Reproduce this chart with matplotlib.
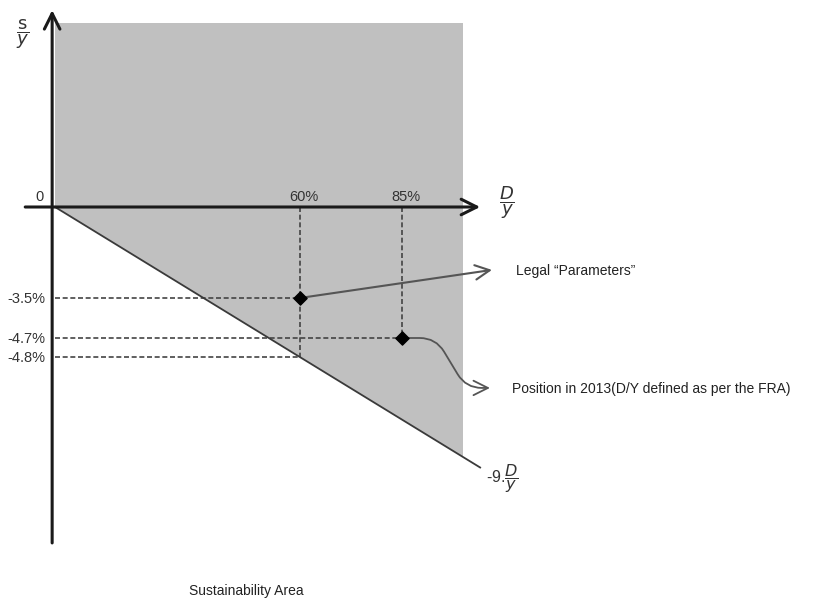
import numpy as np
import matplotlib.pyplot as plt

plt.rcParams['font.family'] = ['Liberation Sans', 'DejaVu Sans']
plt.rcParams['mathtext.fontset'] = 'dejavusans'

# 数据（示意图：赤字 s/y 与债务 D/y，单位 %）
debt_levels = [60, 85]            # D/y 竖线位置
debt_labels = ['60%', '85%']
deficit_levels = [-3.5, -4.7, -4.8]
deficit_labels = ['-3.5%', '-4.7%', '-4.8%']
points_x = [60, 85]               # 法定参数, 2013 位置
points_y = [-3.5, -4.7]
slope = -0.08                     # 可持续线 s/y = -0.08 * D/y
shade_right = 100                 # 阴影区右边界 D/y
shade_top = 5.9                   # 阴影区上边界 s/y
line_end = 104.2
axis_x_range = [-7.3, 104.2]
axis_y_range = [-10.75, 6.3]

# y 轴为示意刻度：标签间距不按比例
knots_val = [-40, -4.8, -4.7, -3.5, 0, 40]
px_per = 150 / 4.8
knots_pos = [-40 * px_per, -150, -131, -91, 0, 40 * px_per]


def fwd(v):
    return np.interp(v, knots_val, knots_pos)


def inv(p):
    return np.interp(p, knots_pos, knots_val)


fig = plt.figure(figsize=(8.38, 6.03), dpi=100)
ax = fig.add_axes([0, 0, 1, 1])
ax.set_yscale('function', functions=(fwd, inv))
# 像素定位：原点 (55, 207)，x 方向 4.08 px/%
ax.set_xlim(-55 / 4.08, (838 - 55) / 4.08)
ax.set_ylim(inv(-396), inv(207))
ax.axis('off')

ink = '#1a1a1a'
grey_txt = '#333333'

# 阴影区
ax.fill([0, 0, shade_right, shade_right],
        [0, shade_top, shade_top, slope * shade_right],
        color='#c0c0c0', lw=0, zorder=1)

# 可持续线
ax.plot([0, line_end], [0, slope * line_end], color='#3a3a3a', lw=1.3, zorder=3)

# 虚线
dash = (0, (3, 1.6))
for xv, yv in zip([60, 85], [-4.8, -4.7]):
    ax.plot([xv, xv], [0, yv], color='#444444', lw=1.2, ls=dash, zorder=2)
for yv, xv in zip(deficit_levels, [60, 85, 60]):
    ax.plot([0, xv], [yv, yv], color='#444444', lw=1.2, ls=dash, zorder=2)

# 坐标轴
ax.annotate('', xy=(axis_x_range[1], 0), xytext=(axis_x_range[0], 0),
            arrowprops=dict(arrowstyle='->', lw=2.2, color=ink,
                            mutation_scale=28, shrinkA=0, shrinkB=0), zorder=5)
ax.annotate('', xy=(-0.7, axis_y_range[1]), xytext=(-0.7, axis_y_range[0]),
            arrowprops=dict(arrowstyle='->', lw=2.2, color=ink,
                            mutation_scale=28, shrinkA=0, shrinkB=0), zorder=5)

# 标记点
ax.scatter(points_x, points_y, marker='D', s=45, color='black', zorder=6)

# 刻度标签
ax.annotate('0', (0, 0), xytext=(-11.5, 7), textcoords='offset points',
            ha='center', va='center', fontsize=10.5, color=grey_txt)
for xv, lab in zip(debt_levels, debt_labels):
    ax.annotate(lab, (xv, 0), xytext=(3, 7.5), textcoords='offset points',
                ha='center', va='center', fontsize=10.5, color=grey_txt)
for yv, lab in zip(deficit_levels, deficit_labels):
    ax.annotate(lab, (0, yv), xytext=(-7, -1), textcoords='offset points',
                ha='right', va='center', fontsize=10.5, color=grey_txt)

# 轴标题
ax.annotate(r'$\dfrac{\mathrm{s}}{y}$', (0, axis_y_range[1]), xytext=(-23, -17),
            textcoords='offset points', ha='center', va='center',
            fontsize=13, color=grey_txt)
ax.annotate(r'$\dfrac{D}{y}$', (axis_x_range[1], 0), xytext=(19, 3),
            textcoords='offset points', ha='center', va='center',
            fontsize=13, color=grey_txt)
ax.annotate(r'-9.$\dfrac{D}{y}$', (line_end, slope * line_end), xytext=(4, -8),
            textcoords='offset points', ha='left', va='center',
            fontsize=11.5, color=grey_txt)

# 说明箭头
ax.annotate('', xy=(107.1, -2.42), xytext=(60, -3.5),
            arrowprops=dict(arrowstyle='->', lw=1.5, color='#555555',
                            mutation_scale=26, shrinkA=0, shrinkB=0), zorder=4)
ax.annotate('Legal \u201cParameters\u201d', (107.1, -2.42), xytext=(17, -1),
            textcoords='offset points', ha='left', va='center',
            fontsize=10, color='#222222')

ax.annotate('', xy=(106.6, -5.79), xytext=(85, -4.7),
            arrowprops=dict(arrowstyle='->', lw=1.3, color='#555555',
                            mutation_scale=26, shrinkA=0, shrinkB=0,
                            connectionstyle='arc,angleA=0,armA=34,angleB=180,armB=24,rad=16'),
            zorder=4)
ax.annotate('Position in 2013(D/Y defined as per the FRA)', (106.6, -5.79),
            xytext=(16, -1), textcoords='offset points', ha='left', va='center',
            fontsize=10, color='#222222')

fig.text(246 / 838, 1 - 591 / 603, 'Sustainability Area', ha='center', va='center',
         fontsize=10, color='#222222')

fig.savefig('out.png', dpi=100)
